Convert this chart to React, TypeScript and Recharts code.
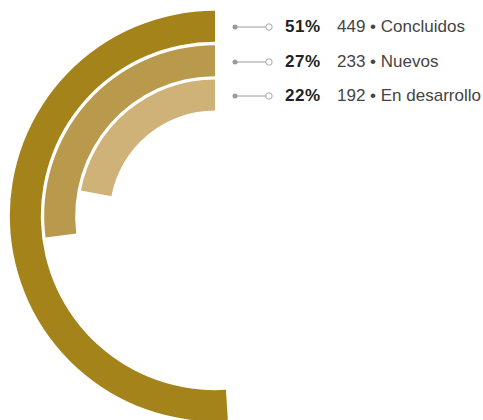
import React from 'react';
import { RadialBarChart, RadialBar, PolarAngleAxis, Cell } from 'recharts';

// inner ring first (recharts stacks categories from the centre outwards)
const labels = ['En desarrollo', 'Nuevos', 'Concluidos'];
const counts = [192, 233, 449];
const percents = [22, 27, 51];
const colors = ['#cfb277', '#b9994b', '#a4841a'];

const data = labels.map((name, i) => ({ name, count: counts[i], pct: percents[i], fill: colors[i] }));

const font = '"Liberation Sans", Arial, Helvetica, sans-serif';

const LegendRow = ({ pct, count, name, top }: any) => (
  <div style={{ position: 'absolute', left: 0, top, height: 20, width: 483 }}>
    <svg width={483} height={20} style={{ position: 'absolute', left: 0, top: 0 }}>
      <line x1={235} y1={10} x2={266} y2={10} stroke="#9a9a9a" strokeWidth={1} />
      <circle cx={235} cy={10} r={2.5} fill="#9a9a9a" />
      <circle cx={269} cy={10} r={3.2} fill="#fff" stroke="#a8a8a8" strokeWidth={1} />
    </svg>
    <span style={{ position: 'absolute', left: 285, top: 0, lineHeight: '20px', fontFamily: font, fontSize: 17, fontWeight: 700, color: '#222', letterSpacing: 0.5 }}>
      {pct}%
    </span>
    <span style={{ position: 'absolute', left: 337, top: 0, lineHeight: '20px', fontFamily: font, fontSize: 17, color: '#444', whiteSpace: 'nowrap' }}>
      {count} • {name}
    </span>
  </div>
);

const App: React.FC = () => {
  const legendRows = [...data].reverse();
  return (
    <div style={{ position: 'absolute', left: 0, top: 0, width: 483, height: 420 }}>
      <RadialBarChart
        width={483}
        height={420}
        data={data}
        cx={215}
        cy={216}
        innerRadius={103.5}
        outerRadius={206.5}
        barSize={31}
        startAngle={90}
        endAngle={450}
        margin={{ top: 0, right: 0, bottom: 0, left: 0 }}
      >
        <PolarAngleAxis type="number" domain={[0, 100]} tick={false} axisLine={false} />
        <RadialBar dataKey="pct" isAnimationActive={false}>
          {data.map((d) => <Cell key={d.name} fill={d.fill} />)}
        </RadialBar>
      </RadialBarChart>
      {legendRows.map((d, i) => (
        <LegendRow key={d.name} pct={d.pct} count={d.count} name={d.name} top={17 + i * 34.5} />
      ))}
    </div>
  );
};

export default App;
